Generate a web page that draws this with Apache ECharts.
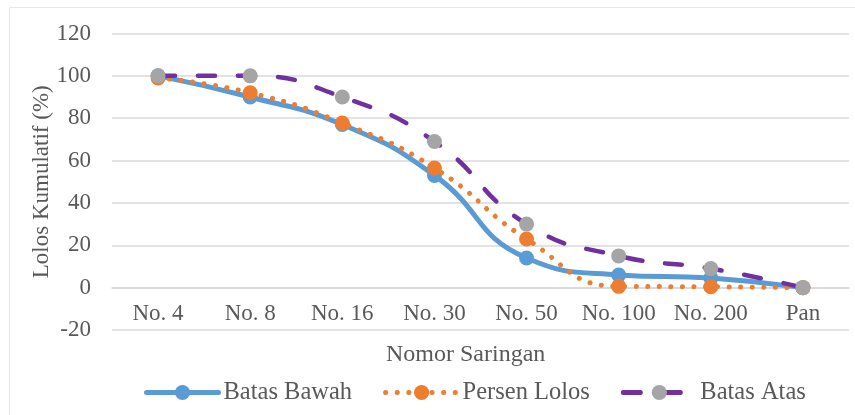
<!DOCTYPE html>
<html>
<head>
<meta charset="utf-8">
<script src="https://cdn.jsdelivr.net/npm/echarts@6/dist/echarts.min.js"></script>
<style>
html,body{margin:0;padding:0;background:#fff;}
#chart{width:855px;height:415px;}
</style>
</head>
<body>
<div id="chart"></div>
<script>
const categories = ['No. 4', 'No. 8', 'No. 16', 'No. 30', 'No. 50', 'No. 100', 'No. 200', 'Pan'];
const batasBawah = [100, 90, 77, 53, 14, 6, 4.5, 0];
const persenLolos = [99, 92, 77.7, 56.5, 23, 0.6, 0.4, 0];
const batasAtas = [100, 100, 90, 69, 30, 15, 9, 0];
const yTicks = { min: -20, max: 120, interval: 20 };
const yTitle = 'Lolos Kumulatif (%)';
const xTitle = 'Nomor Saringan';

const font = 'Liberation Serif, Times New Roman, serif';
const textColor = '#595959';
const gridTop = 33.5, gridBottom = 85, chartH = 415;
const plotH = chartH - gridTop - gridBottom;
// shift the category axis up so it sits on the value 0 (as in the reference)
const zeroOffset = -plotH * (0 - yTicks.min) / (yTicks.max - yTicks.min);

const chart = echarts.init(document.getElementById('chart'), null, { renderer: 'canvas' });

chart.setOption({
  animation: false,
  backgroundColor: '#ffffff',
  grid: { left: 112, right: 6, top: gridTop, bottom: gridBottom, containLabel: false },
  title: {
    text: xTitle,
    left: 386, top: 343,
    padding: 0,
    textStyle: { fontFamily: font, fontSize: 24, fontWeight: 'normal', color: textColor }
  },
  graphic: [{
    type: 'rect', silent: true, z: -1,
    shape: { x: 9.5, y: 7.5, width: 880, height: 440 },
    style: { fill: 'none', stroke: '#E3E9EF', lineWidth: 1 }
  }],
  legend: {
    left: 139, top: 375,
    padding: 5,
    itemWidth: 72, itemHeight: 19, itemGap: 31,
    lineStyle: { width: 5 },
    textStyle: { fontFamily: font, fontSize: 24.5, color: textColor },
    data: ['Batas Bawah', 'Persen Lolos', 'Batas Atas']
  },
  xAxis: {
    type: 'category',
    data: categories,
    boundaryGap: true,
    position: 'bottom',
    offset: zeroOffset,
    axisLine: { show: true, onZero: false, lineStyle: { color: '#D9D9D9', width: 1.5 } },
    axisTick: { show: false },
    axisLabel: { fontFamily: font, fontSize: 23, color: textColor, margin: 15, interval: 0 },
    splitLine: { show: false }
  },
  yAxis: {
    type: 'value',
    min: yTicks.min, max: yTicks.max, interval: yTicks.interval,
    name: yTitle,
    nameLocation: 'middle',
    nameGap: 59,
    nameMoveOverlap: false,
    nameTextStyle: { fontFamily: font, fontSize: 23, color: textColor },
    axisLine: { show: false },
    axisTick: { show: false },
    axisLabel: { fontFamily: font, fontSize: 23, color: textColor, margin: 21 },
    splitLine: { lineStyle: { color: '#D9D9D9', width: 1.5 } }
  },
  series: [
    {
      name: 'Batas Bawah', type: 'line', data: batasBawah, smooth: 0.5,
      symbol: 'circle', symbolSize: 15, z: 2,
      itemStyle: { color: '#5B9BD5' },
      lineStyle: { color: '#5B9BD5', width: 5, cap: 'round' }
    },
    {
      name: 'Persen Lolos', type: 'line', data: persenLolos, smooth: 0.5,
      symbol: 'circle', symbolSize: 15, z: 3,
      itemStyle: { color: '#ED7D31' },
      lineStyle: { color: '#ED7D31', width: 5, type: [0.1, 11.5], cap: 'round' }
    },
    {
      name: 'Batas Atas', type: 'line', data: batasAtas, smooth: 0.5,
      symbol: 'circle', symbolSize: 15, z: 4,
      itemStyle: { color: '#A5A5A5' },
      lineStyle: { color: '#7030A0', width: 4.5, type: [17, 23], cap: 'round' }
    }
  ]
});
</script>
</body>
</html>
